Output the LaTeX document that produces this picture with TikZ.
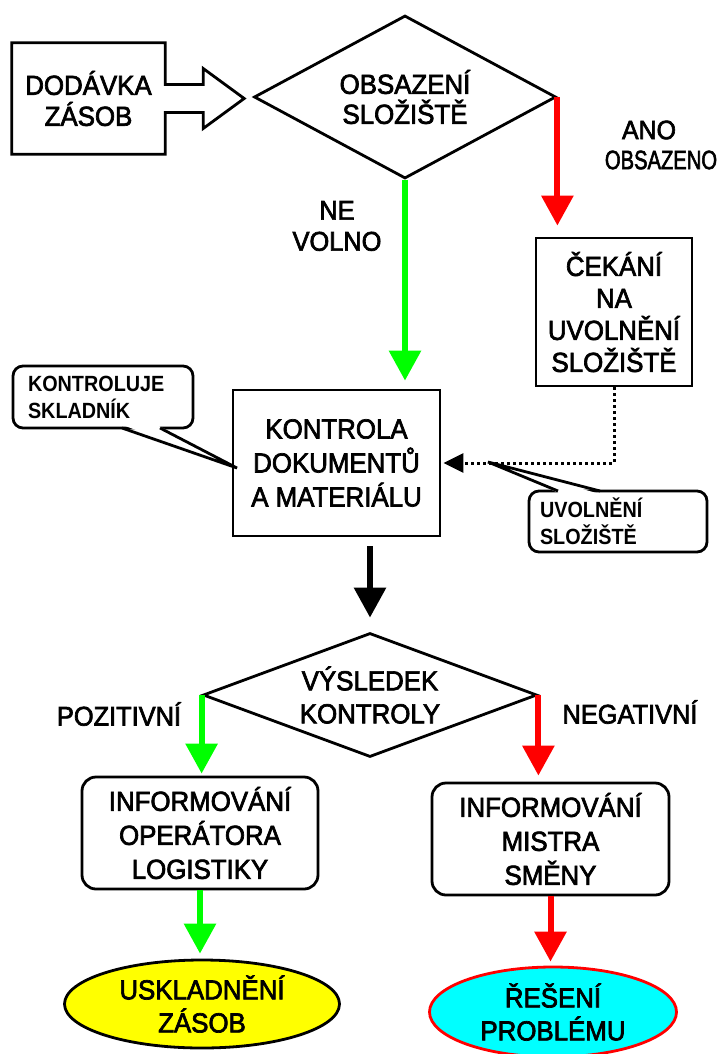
\documentclass[tikz,border=0pt]{standalone}
\usepackage{fontspec}
\setmainfont{Liberation Sans}
\newfontfamily\flowfont{Liberation Sans}[FakeStretch=0.94, FakeBold=2.5]
\newfontfamily\notefont{Liberation Sans}[FakeStretch=0.9]
\usetikzlibrary{shapes.geometric,arrows.meta,calc}

\definecolor{flowgreen}{RGB}{0,255,0}
\definecolor{flowred}{RGB}{255,0,0}
\definecolor{endyellow}{RGB}{255,255,0}
\definecolor{endcyan}{RGB}{0,255,255}

\newcommand{\txt}[2]{\flowfont\fontsize{#1}{#2}\selectfont}
\newcommand{\notetxt}[2]{\notefont\bfseries\fontsize{#1}{#2}\selectfont}

\begin{document}
\begin{tikzpicture}[x=1pt,y=-1pt,
  every node/.style={font=\txt{27.5}{32}, align=center, inner sep=0pt},
  border/.style={draw, line width=2.8pt},
  stepbox/.style={border, fill=white, rectangle},
  infobox/.style={border, fill=white, rectangle, rounded corners=14pt,
                  minimum width=236pt, minimum height=112pt,
                  font=\txt{27.5}{34}},
  decision/.style={border, fill=white, diamond, line join=miter},
  terminal/.style={border, ellipse, font=\txt{27.5}{33}},
  label/.style={font=\txt{27}{31}},
  callout/.style={border, fill=white, rectangle, rounded corners=10pt,
                  font=\notetxt{22}{27}, align=left},
  pointer/.style={line width=2.8pt, line join=miter},
  flow/.style={line width=6pt, -{Triangle[length=30pt,width=31pt]}},
  release/.style={line width=3pt, dash pattern=on 3pt off 3pt,
                  -{Triangle[length=20pt,width=19pt]}}
]
\useasboundingbox (0,0) rectangle (721,1054);

% --- top row: delivery and storage check ---
\node[minimum width=153pt, minimum height=111pt, font=\txt{27.5}{31}]
  (dod) at (88.5,98.5) {DODÁVKA\\ZÁSOB};
\draw[line width=2.8pt, line join=miter]
  (dod.north west) -- (dod.north east)
  -- ($(dod.east)+(0,-14)$) -- ($(dod.east)+(38,-14)$)
  -- ($(dod.east)+(38,-30)$) -- ($(dod.east)+(79,0)$)
  -- ($(dod.east)+(38,30)$) -- ($(dod.east)+(38,14)$)
  -- ($(dod.east)+(0,14)$) -- (dod.south east)
  -- (dod.south west) -- cycle;

\node[decision, aspect=1.85, minimum width=302pt, minimum height=163pt,
      font=\txt{27.5}{30}] (obs) at (405,97) {OBSAZENÍ\\SLOŽIŠTĚ};

\node[stepbox, minimum width=156pt, minimum height=148pt] (cek) at (614,312)
  {ČEKÁNÍ\\NA\\UVOLNĚNÍ\\SLOŽIŠTĚ};

\node[stepbox, minimum width=207pt, minimum height=146pt,
      font=\txt{27.5}{34}] (kon) at (336.5,463)
  {KONTROLA\\DOKUMENTŮ\\A MATERIÁLU};

\draw[flow, flowred, shorten >=11pt] (obs.east) -- (obs.east |- cek.north);
\draw[flow, flowgreen, shorten >=8pt] (obs.south) -- (kon.north -| obs.south);

\node[label, font=\txt{26.5}{30}] (ano) at (655,145)
  {\hspace*{-12pt}ANO\\\hspace*{12pt}\scalebox{0.81}[1]{OBSAZENO}};
\node[label] (ne) at (337,226) {NE\\VOLNO};

% --- release of the storage place ---
\draw[release, shorten >=2pt] (cek.south) |- (kon.east);

% --- callouts ---
\node[callout, minimum width=180pt, minimum height=62pt, text width=150pt]
  (kcall) at (103,397) {KONTROLUJE\\SKLADNÍK};
\fill[white] (124,425.5) -- (158,425.5) -- (237,468) -- cycle;
\draw[pointer] (122,428) -- (237,468) -- (160,428);

\node[callout, minimum width=178pt, minimum height=61pt, text width=156pt]
  (ucall) at (618,521.5) {UVOLNĚNÍ\\SLOŽIŠTĚ};
\fill[white] (560,493.5) -- (598,493.5) -- (488,462) -- cycle;
\draw[pointer] (558,491) -- (488,462) -- (600,491);

% --- result of the check ---
\node[decision, aspect=2.69, minimum width=334pt, minimum height=124pt,
      font=\txt{27.5}{33}] (vys) at (370,695) {VÝSLEDEK\\KONTROLY};
\draw[flow, black, shorten <=9pt, shorten >=14pt] (vys.north |- kon.south) -- (vys.north);

\node[infobox] (info1) at (200,833) {INFORMOVÁNÍ\\OPERÁTORA\\LOGISTIKY};
\node[infobox, minimum width=237pt] (info2) at (550.5,839) {INFORMOVÁNÍ\\MISTRA\\SMĚNY};

\draw[flow, flowgreen, shorten >=2pt] (vys.west) -- (vys.west |- info1.north);
\draw[flow, flowred, shorten >=6pt] (vys.east) -- (vys.east |- info2.north);

\node[label] (poz) at (119,714) {POZITIVNÍ};
\node[label] (neg) at (630,712) {NEGATIVNÍ};

% --- final states ---
\node[terminal, fill=endyellow, minimum width=275pt, minimum height=88pt]
  (usk) at (202,1004) {USKLADNĚNÍ\\ZÁSOB};
\node[terminal, fill=endcyan, draw=flowred, minimum width=247pt, minimum height=90pt]
  (res) at (553,1012) {ŘEŠENÍ\\PROBLÉMU};

\draw[flow, flowgreen, shorten >=5pt] (info1.south) -- (info1.south |- usk.north);
\draw[flow, flowred, shorten >=4pt] (info2.south) -- (info2.south |- res.north);
\end{tikzpicture}
\end{document}
